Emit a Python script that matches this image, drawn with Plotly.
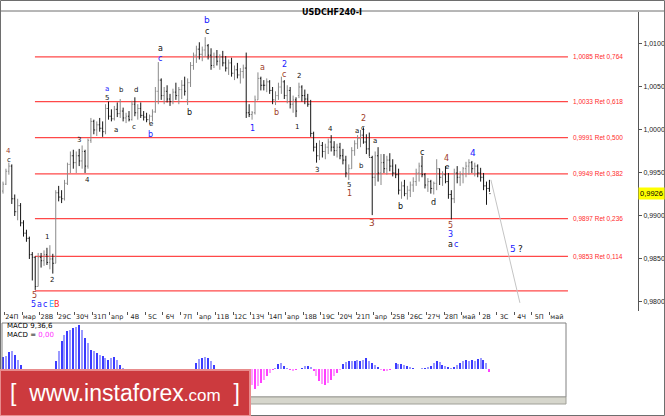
import plotly.graph_objects as go

W, H = 665, 416

# ---------------- data ----------------
opens = [0.9929,0.9937,0.9952,0.9958,0.9920,0.9905,0.9912,0.9892,0.9880,0.9874,
         0.9855,0.9852,0.9818,0.9852,0.9848,0.9855,0.9846,0.9850,0.9845,0.9927,
         0.9922,0.9920,0.9938,0.9960,0.9970,0.9962,0.9970,0.9964,0.9975,0.9958,
         0.9988,1.0010,1.0000,1.0006,1.0002,0.9998,1.0025,1.0016,1.0013,1.0024,
         1.0019,1.0022,1.0014,1.0016,1.0012,1.0030,1.0020,1.0025,1.0017,1.0015,
         1.0012,1.0016,1.0021,1.0045,1.0058,1.0040,1.0045,1.0036,1.0033,1.0044,
         1.0040,1.0047,1.0052,1.0035,1.0055,1.0075,1.0087,1.0094,1.0088,1.0093,
         1.0098,1.0087,1.0075,1.0085,1.0080,1.0085,1.0078,1.0072,1.0078,1.0066,
         1.0070,1.0064,1.0068,1.0072,1.0020,1.0018,1.0020,1.0035,1.0060,1.0052,
         1.0052,1.0056,1.0046,1.0035,1.0040,1.0050,1.0056,1.0040,1.0046,1.0030,
         1.0035,1.0040,1.0050,1.0040,1.0036,1.0030,0.9996,0.9980,0.9970,0.9982,
         0.9975,0.9980,0.9986,0.9980,0.9976,0.9980,0.9970,0.9965,0.9950,0.9955,
         0.9976,0.9984,0.9990,0.9994,0.9986,0.9978,0.9968,0.9945,0.9970,0.9950,
         0.9962,0.9955,0.9965,0.9958,0.9950,0.9948,0.9930,0.9935,0.9926,0.9930,
         0.9936,0.9940,0.9950,0.9958,0.9948,0.9936,0.9940,0.9932,0.9938,0.9955,
         0.9945,0.9948,0.9940,0.9925,0.9920,0.9950,0.9945,0.9948,0.9955,0.9958,
         0.9962,0.9955,0.9958,0.9950,0.9945,0.9935,0.9932]
highs = [0.9940,0.9955,0.9962,0.9960,0.9925,0.9920,0.9915,0.9895,0.9884,0.9876,
         0.9858,0.9853,0.9857,0.9857,0.9860,0.9863,0.9866,0.9856,0.9930,0.9935,
         0.9930,0.9942,0.9962,0.9975,0.9977,0.9975,0.9978,0.9982,0.9977,0.9990,
         1.0014,1.0012,1.0010,1.0014,1.0010,1.0030,1.0033,1.0024,1.0028,1.0032,
         1.0036,1.0026,1.0020,1.0022,1.0034,1.0038,1.0030,1.0032,1.0022,1.0020,
         1.0018,1.0024,1.0050,1.0079,1.0060,1.0050,1.0052,1.0042,1.0048,1.0055,
         1.0050,1.0058,1.0062,1.0060,1.0079,1.0090,1.0098,1.0102,1.0097,1.0108,
         1.0100,1.0095,1.0090,1.0093,1.0088,1.0092,1.0086,1.0082,1.0084,1.0075,
         1.0078,1.0072,1.0076,1.0090,1.0030,1.0022,1.0040,1.0067,1.0062,1.0058,
         1.0060,1.0058,1.0050,1.0045,1.0055,1.0062,1.0058,1.0052,1.0050,1.0040,
         1.0038,1.0055,1.0052,1.0047,1.0042,1.0035,0.9998,0.9985,0.9988,0.9986,
         0.9984,0.9990,0.9994,0.9987,0.9984,0.9985,0.9978,0.9970,0.9960,0.9980,
         0.9988,0.9994,1.0000,1.0003,0.9995,0.9997,0.9970,0.9975,0.9980,0.9972,
         0.9972,0.9970,0.9973,0.9966,0.9960,0.9955,0.9940,0.9942,0.9935,0.9940,
         0.9945,0.9955,0.9962,0.9970,0.9950,0.9944,0.9942,0.9940,0.9966,0.9955,
         0.9952,0.9958,0.9950,0.9930,0.9955,0.9958,0.9952,0.9957,0.9963,0.9966,
         0.9964,0.9962,0.9960,0.9956,0.9950,0.9940,0.9942]
lows =  [0.9926,0.9936,0.9948,0.9914,0.9900,0.9895,0.9888,0.9876,0.9870,0.9850,
         0.9825,0.9814,0.9818,0.9840,0.9842,0.9843,0.9838,0.9833,0.9845,0.9917,
         0.9915,0.9918,0.9936,0.9950,0.9955,0.9950,0.9958,0.9955,0.9950,0.9955,
         0.9985,0.9995,0.9993,0.9998,0.9992,0.9995,1.0012,1.0010,1.0011,1.0015,
         1.0014,1.0010,1.0008,1.0010,1.0011,1.0016,1.0012,1.0014,1.0011,1.0009,
         1.0007,1.0010,1.0020,1.0030,1.0035,1.0030,1.0032,1.0028,1.0030,1.0035,
         1.0030,1.0036,1.0040,1.0029,1.0050,1.0070,1.0078,1.0082,1.0080,1.0085,
         1.0082,1.0070,1.0072,1.0075,1.0070,1.0074,1.0068,1.0064,1.0062,1.0058,
         1.0060,1.0054,1.0060,1.0014,1.0015,1.0012,1.0018,1.0035,1.0046,1.0046,
         1.0044,1.0042,1.0030,1.0029,1.0035,1.0042,1.0036,1.0031,1.0025,1.0020,
         1.0015,1.0037,1.0033,1.0030,1.0027,0.9992,0.9975,0.9962,0.9965,0.9968,
         0.9966,0.9972,0.9975,0.9970,0.9968,0.9966,0.9960,0.9945,0.9942,0.9955,
         0.9970,0.9978,0.9980,0.9984,0.9972,0.9969,0.9901,0.9935,0.9940,0.9936,
         0.9950,0.9948,0.9952,0.9946,0.9944,0.9925,0.9920,0.9923,0.9919,0.9922,
         0.9928,0.9935,0.9940,0.9945,0.9932,0.9928,0.9926,0.9925,0.9930,0.9936,
         0.9935,0.9938,0.9920,0.9896,0.9915,0.9938,0.9935,0.9938,0.9945,0.9948,
         0.9950,0.9946,0.9945,0.9940,0.9930,0.9913,0.9928]
closes = [0.9937,0.9952,0.9958,0.9920,0.9905,0.9912,0.9892,0.9880,0.9874,0.9855,
          0.9852,0.9818,0.9852,0.9848,0.9855,0.9846,0.9850,0.9845,0.9927,0.9922,
          0.9920,0.9938,0.9960,0.9970,0.9962,0.9970,0.9964,0.9975,0.9958,0.9988,
          1.0010,1.0000,1.0006,1.0002,0.9998,1.0025,1.0016,1.0013,1.0024,1.0019,
          1.0022,1.0014,1.0016,1.0012,1.0030,1.0020,1.0025,1.0017,1.0015,1.0012,
          1.0016,1.0021,1.0045,1.0058,1.0040,1.0045,1.0036,1.0033,1.0044,1.0040,
          1.0047,1.0052,1.0045,1.0055,1.0075,1.0087,1.0094,1.0088,1.0093,1.0098,
          1.0087,1.0075,1.0085,1.0080,1.0085,1.0078,1.0072,1.0078,1.0066,1.0070,
          1.0064,1.0068,1.0072,1.0020,1.0018,1.0020,1.0035,1.0060,1.0052,1.0052,
          1.0056,1.0046,1.0035,1.0040,1.0050,1.0056,1.0040,1.0046,1.0030,1.0035,
          1.0022,1.0050,1.0040,1.0036,1.0030,0.9996,0.9980,0.9970,0.9982,0.9975,
          0.9980,0.9986,0.9980,0.9976,0.9980,0.9970,0.9965,0.9950,0.9955,0.9976,
          0.9984,0.9990,0.9994,0.9986,0.9978,0.9968,0.9945,0.9970,0.9950,0.9962,
          0.9955,0.9965,0.9958,0.9950,0.9948,0.9930,0.9935,0.9926,0.9930,0.9936,
          0.9940,0.9950,0.9958,0.9948,0.9936,0.9940,0.9932,0.9938,0.9955,0.9945,
          0.9948,0.9940,0.9925,0.9920,0.9950,0.9945,0.9948,0.9955,0.9958,0.9962,
          0.9955,0.9958,0.9950,0.9945,0.9935,0.9932,0.9926]
bar_index = list(range(len(closes)))

macd_hist = [12,13,17,18,14,9,4,
             -1,-1,-1,-1,-1,-1,-1,-1,-1,-1,0,
             8,18,28,34,38,39,41,42,44,39,31,26,19,18,16,14,13,11,9,11,12,9,4,1,
             -1,-1,-1,-1,-1,-2,-2,-1,-1,-1,-1,-1,-1,-1,-1,-1,-1,-1,-1,-1,-1,-1,-1,-1,
             6,10,11,12,11,8,4,
             -1,-1,-2,-2,-2,-3,-3,-4,-4,-5,
             -6,-9,-16,-20,-17,-14,-11,-7,-4,-1,
             1,5,6,3,
             1,-1,-2,-1,0,1,
             3,3,2,
             -2,-7,-12,-15,-16,-14,-11,-7,-4,
             -1,
             5,7,8,8,8,9,8,9,11,8,6,4,2,
             -1,-2,-2,-1,0,
             6,5,5,4,3,2,
             1,0,0,1,1,2,
             3,6,8,7,4,3,
             2,1,
             2,4,6,8,9,8,9,8,10,11,9,6,
             -3]

date_labels = ["24П","мар","28В","29С","30Ч","31П","апр","4В","5С","6Ч","7П","апр",
               "11В","12С","13Ч","14П","апр","18В","19С","20Ч","21П","апр","25В","26С",
               "27Ч","28П","май","2В","3С","4Ч","5П","май"]
date_pos = [3 + 6 * k for k in range(len(date_labels))]

price_ticks = [0.9800, 0.9850, 0.9900, 0.9950, 1.0000, 1.0050, 1.0100]
price_tick_text = ["0,9800", "0,9850", "0,9900", "0,9950", "1,0000", "1,0050", "1,0100"]

fib_levels = [1.0085, 1.0033, 0.9991, 0.9949, 0.9897, 0.9853, 0.9813]
fib_labels = ["1,0085 Ret 0,764", "1,0033 Ret 0,618", "0,9991 Ret 0,500",
              "0,9949 Ret 0,382", "0,9897 Ret 0,236", "0,9853 Ret 0,114", ""]
fib_start, fib_end = 10.9, 192.8

last_price = 0.9926
proj_x = [166.5, 176.4]
proj_y = [0.9942, 0.9799]

BL, BK, BR, CY, RD = "#2020ff", "#111111", "#a03c28", "#33aaff", "#ff2020"
wave_x = [2.0, 2.0, 10.9, 10.4, 12.4, 14.2, 16.4, 18.5, 15.0, 16.7, 25.9, 28.7,
          35.5, 35.5, 40.6, 45.4, 38.6, 44.7, 50.5, 50.5, 53.6, 53.6, 63.5, 69.6, 69.6,
          85.0, 88.4, 93.2, 95.9, 95.9, 101.0, 100.3, 107.2, 111.9, 118.1, 118.1,
          120.8, 122.9, 122.9, 122.2, 127.0, 126.0, 135.5, 143.0, 146.8, 151.5, 151.5,
          152.6, 152.6, 152.6, 154.6, 160.4, 174.1, 176.5]
wave_y = [0.99756, 0.99651, 0.98081, 0.97975, 0.97975, 0.97975, 0.97975, 0.97975,
          0.98756, 0.98256, 0.99884, 0.99419, 1.00477, 1.00372, 1.00465, 1.00465,
          1.00000, 1.00035, 1.00070, 0.99953, 1.00953, 1.00837, 1.00209, 1.01279,
          1.01151, 1.00012, 1.00721, 1.00209, 1.00756, 1.00640, 1.00628, 1.00035,
          0.99535, 1.00012, 0.99360, 0.99267, 0.99988, 1.00128, 1.00023, 0.99581,
          0.99872, 0.98919, 0.99116, 0.99733, 0.99151, 0.99674, 0.99570, 0.98884,
          0.98779, 0.98674, 0.98674, 0.99733, 0.98616, 0.98616]
wave_text = ["4", "c", "5", "5", "a", "c", "E", "B", "1", "2", "3", "4",
             "a", "5", "b", "d", "a", "c", "e", "b", "a", "c", "b", "b", "c",
             "1", "a", "b", "2", "c", "2", "1", "3", "4", "5", "1",
             "a", "2", "c", "b", "a", "3", "b", "c", "d", "4", "e",
             "5", "3", "a", "c", "4", "5", "?"]
wave_color = [BR, BK, BR, BL, BL, BL, CY, RD, BK, BK, BK, BK,
              BL, BK, BK, BK, BK, BK, BK, BL, BK, BL, BK, BL, BK,
              BL, BR, BR, BL, BR, BK, BK, BK, BK, BK, BR,
              BK, BR, BK, BK, BK, BR, BK, BK, BK, BR, BK,
              BR, BL, BK, BL, BL, BL, BK]
wave_size = [7, 7, 8, 8, 8, 8, 8, 8, 7, 7, 7, 7,
             7, 7, 7, 7, 7, 7, 7, 8, 8, 8, 8, 9, 8,
             8, 8, 8, 8, 8, 7, 7, 7, 7, 7, 8,
             7, 8, 7, 7, 7, 9, 8, 8, 8, 8, 7,
             8, 8, 8, 8, 9, 9, 9]

# ---------------- figure ----------------
def px(x):
    return x / W

def py(y):
    return 1 - y / H

FONT = "DejaVu Sans"
NARROW = "Liberation Sans Narrow, Liberation Sans"
fig = go.Figure()

fig.add_trace(go.Ohlc(
    x=bar_index, open=opens, high=highs, low=lows, close=closes,
    increasing=dict(line=dict(color="#8a8a8a", width=1)),
    decreasing=dict(line=dict(color="#151515", width=1)),
    tickwidth=0.35, hoverinfo="skip", showlegend=False,
    xaxis="x", yaxis="y"))

fig.add_trace(go.Scatter(
    x=proj_x, y=proj_y, mode="lines",
    line=dict(color="#c4c4c4", width=1), hoverinfo="skip", showlegend=False,
    xaxis="x", yaxis="y"))

macd_colors = []
for k, v in enumerate(macd_hist):
    if v >= 0:
        macd_colors.append("#3b3bff" if k % 2 == 0 else "#9a9aff")
    else:
        macd_colors.append("#ff40ff" if k % 2 == 0 else "#ff9cff")
fig.add_trace(go.Bar(
    x=bar_index, y=macd_hist, marker=dict(color=macd_colors, line=dict(width=0)),
    width=0.38, hoverinfo="skip", showlegend=False, xaxis="x2", yaxis="y2"))

shapes = []
for lv in fib_levels:
    shapes.append(dict(type="line", xref="x", yref="y", x0=fib_start, x1=fib_end,
                       y0=lv, y1=lv, line=dict(color="#ff4848", width=1.2), layer="below"))
shapes.append(dict(type="rect", xref="paper", yref="paper", x0=px(0.5), x1=px(664.5),
                   y0=py(415.5), y1=py(0.5), line=dict(color="#6e6e6e", width=1)))
shapes.append(dict(type="line", xref="paper", yref="paper", x0=0, x1=1,
                   y0=py(11), y1=py(11), line=dict(color="#6e6e6e", width=1)))
shapes.append(dict(type="rect", xref="paper", yref="paper", x0=px(2), x1=px(566),
                   y0=py(397), y1=py(323), line=dict(color="#808080", width=1)))
shapes.append(dict(type="rect", xref="paper", yref="paper", x0=px(2), x1=px(566),
                   y0=py(404), y1=py(397), fillcolor="#d6d6cc",
                   line=dict(color="#a0a098", width=1), layer="above"))
shapes.append(dict(type="rect", xref="paper", yref="paper", x0=px(0), x1=px(250),
                   y0=py(416), y1=py(370), fillcolor="#cc3a3e",
                   line=dict(color="#e88c8c", width=2), layer="above"))

annotations = []
annotations.append(dict(text="<b>USDCHF240-I</b>", xref="paper", yref="paper",
                        x=px(332), y=py(5.5), showarrow=False,
                        font=dict(family=FONT, size=8, color="#000")))
for lv, lab in zip(fib_levels, fib_labels):
    if lab:
        annotations.append(dict(text=lab, xref="x", yref="y", x=194.0, y=lv,
                                xanchor="left", yanchor="middle", showarrow=False,
                                font=dict(family=NARROW, size=6.5, color="#ff2a2a")))
for xx, yy, tt, cc, ss in zip(wave_x, wave_y, wave_text, wave_color, wave_size):
    annotations.append(dict(text=tt, xref="x", yref="y", x=xx, y=yy, showarrow=False,
                            font=dict(family=FONT, size=ss, color=cc)))
annotations.append(dict(text="0,9926", xref="paper", yref="y", x=px(638), y=last_price,
                        xanchor="left", yanchor="middle", showarrow=False,
                        bgcolor="#ffff00", borderpad=1,
                        font=dict(family="Liberation Sans", size=7.5, color="#000")))
annotations.append(dict(text="MACD 9,36,6", xref="paper", yref="paper", x=px(5), y=py(326),
                        xanchor="left", yanchor="middle", showarrow=False,
                        font=dict(family=FONT, size=7, color="#000")))
annotations.append(dict(text="MACD = <span style='color:#ff30ff'>0,00</span>",
                        xref="paper", yref="paper", x=px(5), y=py(335),
                        xanchor="left", yanchor="middle", showarrow=False,
                        font=dict(family=FONT, size=7, color="#000")))
annotations.append(dict(text="[  www.instaforex<span style='font-size:17px'>.com</span>  ]",
                        xref="paper", yref="paper", x=px(125), y=py(393),
                        xanchor="center", yanchor="middle", showarrow=False,
                        font=dict(family="Liberation Sans", size=23, color="#ffffff")))

fig.update_layout(
    width=W, height=H, margin=dict(l=0, r=0, t=0, b=0),
    paper_bgcolor="#ffffff", plot_bgcolor="#ffffff",
    showlegend=False, shapes=shapes, annotations=annotations,
    xaxis=dict(domain=[px(2), px(638)], range=[-0.34, 216.7], showgrid=False,
               zeroline=False, showline=False, rangeslider=dict(visible=False),
               tickmode="array", tickvals=date_pos, ticktext=date_labels,
               ticks="", tickfont=dict(family=FONT, size=6.5, color="#222"),
               minor=dict(tickmode="array", tickvals=[p - 2.5 for p in date_pos],
                          ticks="outside", ticklen=3, tickcolor="#555")),
    yaxis=dict(domain=[py(311), py(12)], range=[0.97895, 1.01372], side="right",
               showgrid=False, zeroline=False, showline=True, linecolor="#555",
               linewidth=1, ticks="outside", ticklen=3, tickcolor="#555",
               tickmode="array", tickvals=price_ticks, ticktext=price_tick_text,
               tickfont=dict(family="Liberation Sans", size=7, color="#222")),
    xaxis2=dict(domain=[px(2), px(566)], range=[-0.34, 192.15], showgrid=False,
                zeroline=False, showline=False, showticklabels=False, anchor="y2"),
    yaxis2=dict(domain=[py(397), py(323)], range=[-28, 46], showgrid=False,
                zeroline=False, showline=False, showticklabels=False, anchor="x2"),
    bargap=0,
)

fig.write_html("out.html", config={"displayModeBar": False},
               post_script="document.body.style.margin='0';document.body.style.overflow='hidden';")
